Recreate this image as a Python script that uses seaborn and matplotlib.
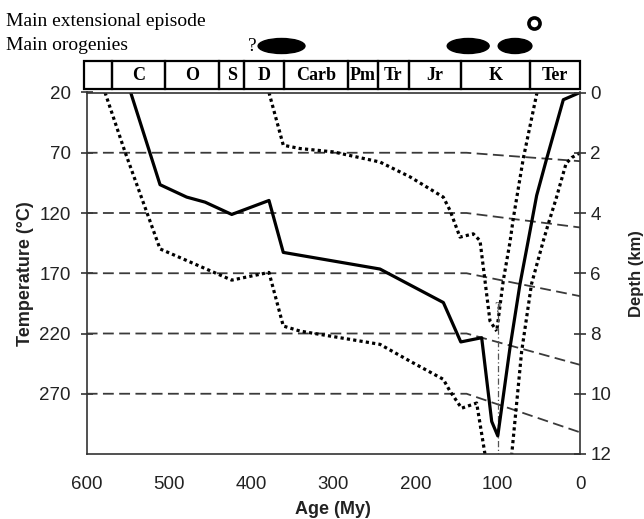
import matplotlib
matplotlib.use("Agg")
import matplotlib.pyplot as plt
from matplotlib.patches import Ellipse
import numpy as np
import seaborn as sns

# Geological periods: boundary ages (My) and labels of the header strip
period_edges = [603, 569.6, 504.8, 439, 408.6, 360, 282, 245.7, 208, 144.6, 60.7, 0]
period_labels = ["", "C", "O", "S", "D", "Carb", "Pm", "Tr", "Jr", "K", "Ter"]

# Main orogenies (centre age, duration in My) and main extensional episode
orogeny_age = [363, 136, 79]
orogeny_span = [57, 51, 41]
extension_age = [55.7]

# Best-estimate burial / temperature path
path_age = [546.5, 510.8, 478.4, 456, 423.6, 378.3, 360.9, 243.3, 166.2, 145,
            119.6, 107.4, 100, 85.2, 73, 63, 52.7, 40.5, 20.3, 0]
path_temp = [20, 96.5, 106.8, 111, 121.2, 109.6, 152.7, 166.5, 194.3, 227,
             223.5, 293, 305, 232, 179, 143, 105.4, 74.8, 26, 20]

# Hot bound of the Palaeozoic-Mesozoic path
hot_age = [577.7, 553.4, 510.8, 423.6, 378.3, 360.9, 340.5, 243.3, 206.7,
           166.3, 158, 144, 125.7, 115.6]
hot_temp = [20, 69.3, 149.8, 175.7, 169.3, 213.8, 218, 229, 243,
            258, 268, 282, 277.7, 320]

# Cool bound of the Palaeozoic-Mesozoic path
cool_age = [378.3, 360.9, 340.6, 300, 243.3, 206.8, 166.3, 158, 146,
            129.8, 121.6, 109.5, 101.3]
cool_temp = [20, 63.75, 66.5, 69.3, 77.7, 90, 106.8, 118, 140,
             137.3, 143, 209.6, 218]

# Cretaceous-Tertiary envelope (early and late limbs)
early_age = [52.3, 69, 81.2, 85.2, 93.3, 101.3]
early_temp = [20, 74.8, 124.8, 144.3, 176, 218]
late_age = [0, 10, 17, 29, 39, 45, 59, 71, 83]
late_temp = [70, 74, 79, 108, 130, 144, 179, 235, 320]

# Uncertain peak-burial trace
peak_age = [100, 100]
peak_temp = [195, 320]

# Isotherm reference lines (temperature before the bend and at present)
iso_temp = [70, 120, 170, 220, 270]
iso_present = [77, 132, 189, 246, 302]
iso_bend_age = 138

temp_ticks = [20, 70, 120, 170, 220, 270]
depth_ticks = [0, 2, 4, 6, 8, 10, 12]
age_ticks = [600, 500, 400, 300, 200, 100, 0]

sns.set_theme(style="white")
plt.rcParams["font.family"] = ["Liberation Sans", "DejaVu Sans"]
SERIF = ["Liberation Serif", "DejaVu Serif"]
INK = "#222222"
AXC = "#333333"

W, H = 644, 519
fig = plt.figure(figsize=(W / 100, H / 100), dpi=100)
x0, x1 = 86.7 / W, 580 / W
y0, y1 = 1 - 454 / H, 1 - 92.5 / H
ax = fig.add_axes([x0, y0, x1 - x0, y1 - y0])

# isotherms
for t0, t1 in zip(iso_temp, iso_present):
    sns.lineplot(x=[600, iso_bend_age, 0], y=[t0, t0, t1], sort=False,
                 estimator=None, ax=ax, color="#3a3a3a", lw=1.3,
                 linestyle=(0, (6, 3)))

dot = (0, (1, 1))
for a, t in [(hot_age, hot_temp), (cool_age, cool_temp),
             (early_age, early_temp), (late_age, late_temp)]:
    sns.lineplot(x=a, y=t, sort=False, estimator=None, ax=ax, color="black",
                 lw=2.3, linestyle=dot)

sns.lineplot(x=peak_age, y=peak_temp, sort=False, estimator=None, ax=ax,
             color="#555555", lw=0.9, linestyle=(0, (5, 2, 1, 2)))

sns.lineplot(x=path_age, y=path_temp, sort=False, estimator=None, ax=ax,
             color="black", lw=2.3)

ax.text(100, 199, "?", ha="center", va="center", fontsize=10,
        family=SERIF, color="#444444")

ax.set_xlim(600, 0)
ax.set_ylim(320, 20)
ax.set_xticks(age_ticks)
ax.set_yticks(temp_ticks)
ax.set_xlabel("Age (My)", fontsize=13, fontweight="bold", color=INK, labelpad=6)
ax.set_ylabel("Temperature (°C)", fontsize=13, fontweight="bold", color=INK,
              labelpad=4)
for s in ax.spines.values():
    s.set_color(AXC)
    s.set_linewidth(1.2)
ax.tick_params(axis="both", direction="inout", length=9, width=1.2,
               color=AXC, labelsize=13.5, labelcolor=INK)
ax.tick_params(axis="y", pad=7)
ax.tick_params(axis="x", pad=11)

ax2 = ax.twinx()
ax2.set_ylim(12, 0)
ax2.set_yticks(depth_ticks)
ax2.set_ylabel("Depth (km)", fontsize=12, fontweight="bold", color=INK,
               labelpad=13)
ax2.tick_params(axis="y", direction="inout", length=9, width=1.2, color=AXC,
                labelsize=13.5, labelcolor=INK, pad=3)
for s in ax2.spines.values():
    s.set_visible(False)
ax2.grid(False)
ax.grid(False)

# header strip: periods, orogenies and extension
hax = fig.add_axes([x0, 1 - 89 / H, x1 - x0, 89 / H])
hax.set_xlim(600, 0)
hax.set_ylim(89, 0)
hax.axis("off")
edges = np.array(period_edges)
centres = (edges[:-1] + edges[1:]) / 2
widths = edges[:-1] - edges[1:]
hax.bar(centres, height=28, bottom=61, width=widths, fill=False,
        edgecolor="black", linewidth=1.6, clip_on=False)
for c, lab in zip(centres, period_labels):
    hax.text(c, 75.5, lab, ha="center", va="center", fontsize=13,
             fontweight="bold", family=SERIF, color="black")
for a, s in zip(orogeny_age, orogeny_span):
    hax.add_patch(Ellipse((a, 46), width=s, height=15, color="black"))
hax.text(398.7, 46.5, "?", ha="center", va="center", fontsize=14,
         family=SERIF, color="black")
hax.plot(extension_age, [22.7], marker="o", ms=8, mfc="white", mec="black",
         mew=2.6, ls="none", clip_on=False)

fig.text(6 / W, 1 - 22 / H, "Main extensional episode", va="center",
         fontsize=14, family=SERIF, color="black")
fig.text(6 / W, 1 - 45 / H, "Main orogenies", va="center",
         fontsize=14, family=SERIF, color="black")

fig.savefig("out.png", dpi=100)
